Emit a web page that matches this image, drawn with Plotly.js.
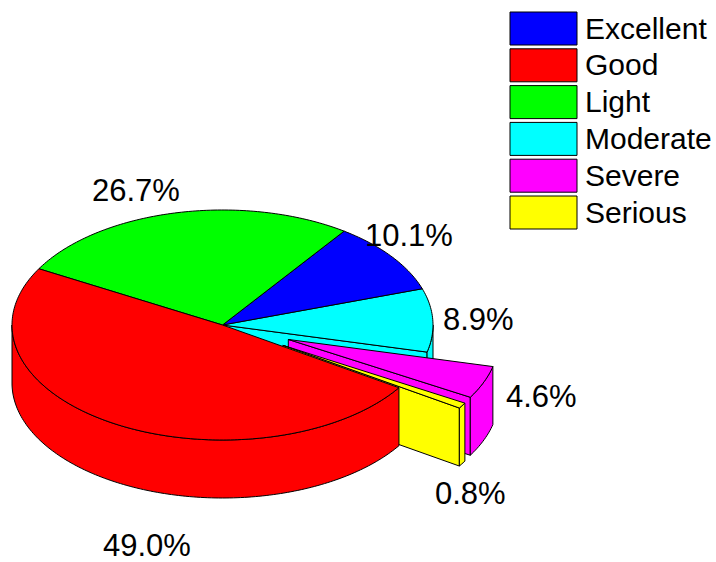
<!DOCTYPE html>
<html><head><meta charset="utf-8">
<script src="https://cdn.plot.ly/plotly-3.0.1.min.js"></script>
<style>html,body{margin:0;padding:0;background:#fff}</style></head>
<body><div id="chart" style="width:716px;height:562px"></div>
<script>
// Data, in the order the slices run clockwise round the pie
const sliceNames  = ['Excellent','Moderate','Severe','Serious','Good','Light'];
const sliceValues = [10.1, 8.9, 4.6, 0.8, 49.0, 26.7];
const sliceLabels = ['10.1%','8.9%','4.6%','0.8%','49.0%','26.7%'];
// Legend order
const legendNames = ['Excellent','Good','Light','Moderate','Severe','Serious'];
// Styles
const colours = {Excellent:'#0000ff',Good:'#ff0000',Light:'#00ff00',Moderate:'#00ffff',Severe:'#ff00ff',Serious:'#ffff00'};
const exploded = {Severe:0.337, Serious:0.337};
// Layout
const cx=222.5, cy=325, rx=210.5, ry=115, depth=58, startDeg=-54.7;
const labelPos = {Excellent:[409,235],Moderate:[478,319],Severe:[541.5,396],Serious:[470,493],Good:[147,545],Light:[136,190]};
const FONT='"Liberation Sans", Arial, sans-serif', LABEL_SIZE=31, LEG_SIZE=30;

const total = sliceValues.reduce((a,b)=>a+b,0);
let acc=startDeg;
const slices = sliceNames.map((n,i)=>{const a0=acc; acc+=sliceValues[i]/total*360;
  const mid=(a0+acc)/2*Math.PI/180, e=exploded[n]||0;
  return {n,a0,a1:acc,ox:rx*Math.cos(mid)*e,oy:ry*Math.sin(mid)*e};});
const pt=(s,d,z)=>[cx+s.ox+rx*Math.cos(d*Math.PI/180), cy+s.oy+ry*Math.sin(d*Math.PI/180)+z];
function arc(s,a,b,z){const n=Math.max(2,Math.ceil(Math.abs(b-a)));const o=[];
  for(let i=0;i<=n;i++)o.push(pt(s,a+(b-a)*i/n,z));return o;}
function poly(name,pts){pts=pts.concat([pts[0]]);return {type:'scatter',mode:'lines',fill:'toself',name,
  x:pts.map(p=>p[0]),y:pts.map(p=>p[1]),fillcolor:colours[name],
  line:{color:'#000',width:1,simplify:false},showlegend:false,hoverinfo:'skip'};}
const apex=(s,z)=>[cx+s.ox,cy+s.oy+z];
function wall(s){ // outer curved wall, front half only
  const a=Math.max(s.a0,0), b=Math.min(s.a1,180);
  if(b<=a) return [];
  return [poly(s.n,arc(s,a,b,0).concat(arc(s,b,a,depth)))];
}
const topFace=s=>poly(s.n,[apex(s,0)].concat(arc(s,s.a0,s.a1,0)));
const cutFace=s=>poly(s.n,[apex(s,0),pt(s,s.a1,0),pt(s,s.a1,depth),apex(s,depth)]);
const by=Object.fromEntries(slices.map(s=>[s.n,s]));
const traces=[];
traces.push(cutFace(by.Moderate));
['Moderate','Excellent','Light'].forEach(n=>{traces.push(...wall(by[n]));traces.push(topFace(by[n]));});
['Severe','Serious'].forEach(n=>{traces.push(cutFace(by[n]));traces.push(...wall(by[n]));traces.push(topFace(by[n]));});
traces.push(...wall(by.Good));traces.push(topFace(by.Good));

const annotations=slices.map((s,i)=>({x:labelPos[s.n][0],y:labelPos[s.n][1],text:sliceLabels[i],showarrow:false,
  xanchor:'center',yanchor:'middle',font:{family:FONT,size:LABEL_SIZE,color:'#000'}}));
const shapes=[];
legendNames.forEach((n,i)=>{const y0=12+36.8*i;
  shapes.push({type:'rect',xref:'x',yref:'y',x0:510,x1:577,y0,y1:y0+33,fillcolor:colours[n],line:{color:'#000',width:1}});
  annotations.push({x:583,y:y0+16,text:n,showarrow:false,xanchor:'left',yanchor:'middle',font:{family:FONT,size:LEG_SIZE,color:'#000'}});
});
Plotly.newPlot('chart',traces,{width:716,height:562,margin:{l:0,r:0,t:0,b:0},paper_bgcolor:'#fff',plot_bgcolor:'#fff',
  xaxis:{range:[0,716],visible:false,fixedrange:true},yaxis:{range:[562,0],visible:false,fixedrange:true},
  showlegend:false,annotations,shapes},{displayModeBar:false,staticPlot:true});
</script></body></html>
